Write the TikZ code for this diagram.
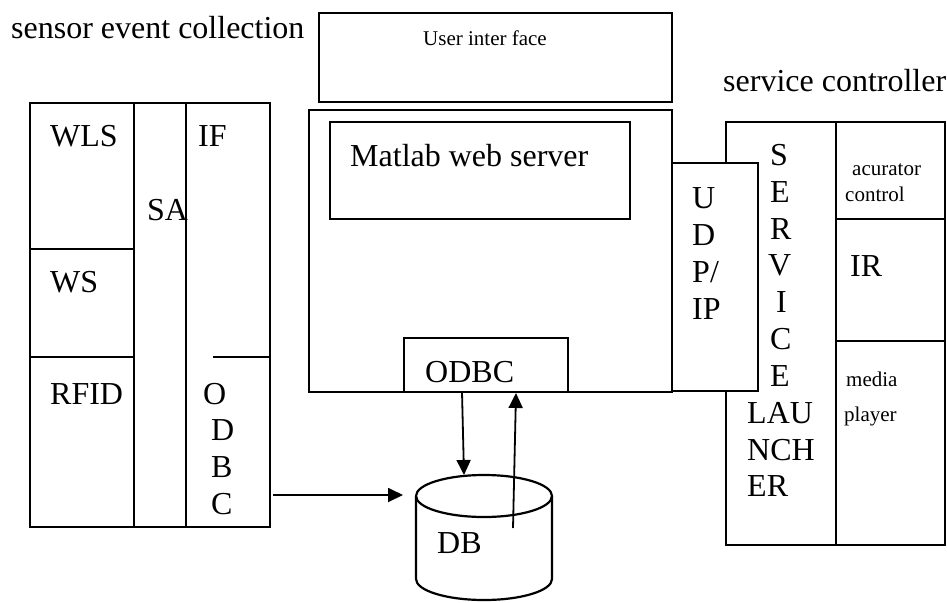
\documentclass[tikz,border=0pt]{standalone}
\usepackage{fontspec}
\setmainfont{Liberation Serif}
\usetikzlibrary{arrows.meta,fit}
\begin{document}
\begin{tikzpicture}[x=1pt,y=-1pt,
  box/.style={draw, line width=2.2pt, fill=white, inner sep=0pt},
  big/.style={font=\fontsize{32}{36}\selectfont, inner sep=0pt, anchor=base west, yshift=-3pt},
  small/.style={font=\fontsize{21}{25}\selectfont, inner sep=0pt, anchor=base west, yshift=-3pt},
  arr/.style={line width=1.8pt, -{Triangle[length=15pt,width=14pt]}},
  rule/.style={line width=2.2pt}]
\useasboundingbox (0,0) rectangle (947,602);

% ---------- sensor event collection ----------
\node[big] (tsec) at (11,35) {sensor event collection};
\node[box, fit={(30,103)(134,249)}] (wlscell) {};
\node[box, fit={(30,249)(134,357)}] (wscell) {};
\node[box, fit={(30,357)(134,527)}] (rfidcell) {};
\node[box, fit={(134,103)(186,527)}] (sacol) {};
\node[box, fit={(186,103)(270,527)}] (ifcol) {};
\draw[rule] (213,357) -- (270,357);
\node[big] (twls) at (50,143) {WLS};
\node[big] (tif) at (198,143) {IF};
\node[big] (tsa) at (147,217) {SA};
\node[big] (tws) at (50,289) {WS};
\node[big] (trfid) at (50,401) {RFID};
\node[big] (to1) at (203,401) {O};
\node[big] (td1) at (211,437) {D};
\node[big] (tb1) at (211,474) {B};
\node[big] (tc1) at (211,511) {C};

% ---------- server ----------
\node[box, fit={(319,13)(672,102)}] (ui) {};
\node[small] (tui) at (423,43) {User inter face};
\node[box, fit={(309,110)(672,392)}] (server) {};
\node[box, fit={(330,122)(630,219)}] (matlab) {};
\node[big] (tmatlab) at (350,163) {Matlab web server};
\node[box, fit={(404,338)(568,392)}] (odbc) {};
\node[big] (todbc) at (425,379) {ODBC};

% ---------- service controller ----------
\node[big] (tsc) at (723,88) {service controller};
\node[box, fit={(726,122)(836,545)}] (launcher) {};
\node[box, fit={(836,122)(945,219)}] (act) {};
\node[box, fit={(836,219)(945,341)}] (ir) {};
\node[box, fit={(836,341)(945,545)}] (media) {};
\node[box, fit={(672,163)(758,391)}] (udp) {};
\node[big] (tu) at (692,205) {U};
\node[big] (td2) at (692,242) {D};
\node[big] (tp) at (692,279) {P/};
\node[big] (tip) at (692,316) {IP};
\node[big] (ts) at (770,162) {S};
\node[big] (te1) at (770,199) {E};
\node[big] (tr) at (770,236) {R};
\node[big] (tv) at (768,272) {V};
\node[big] (ti) at (776,309) {I};
\node[big] (tc2) at (770,346) {C};
\node[big] (te2) at (770,383) {E};
\node[big] (tlau) at (747,420) {LAU};
\node[big] (tnch) at (747,457) {NCH};
\node[big] (ter) at (747,493) {ER};
\node[small] (tacu) at (852,172) {acurator};
\node[small] (tctl) at (845,198) {control};
\node[big] (tir) at (850,273) {IR};
\node[small] (tmed) at (846,383) {media};
\node[small] (tpla) at (844,418) {player};

% ---------- DB cylinder ----------
\draw[rule] (484,496) ellipse[x radius=68, y radius=21];
\draw[rule] (416,496) -- (416,579) arc[start angle=180, end angle=0, x radius=68, y radius=21] -- (552,496);
\node[big] (db) at (437,550) {DB};

% ---------- connectors ----------
\coordinate (odbcout) at (462,392);
\coordinate (dbtop) at (464,475);
\coordinate (dbin) at (513,528);
\coordinate (odbcin) at (516,393);
\coordinate (ifout) at (273,495);
\coordinate (dbleft) at (403,495);
\draw[arr] (odbcout) -- (dbtop);
\draw[arr] (dbin) -- (odbcin);
\draw[arr] (ifout) -- (dbleft);
\end{tikzpicture}
\end{document}
